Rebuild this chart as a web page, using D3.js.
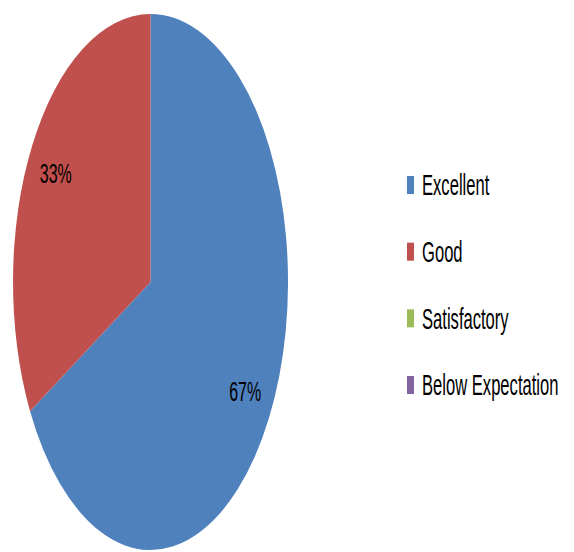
<!DOCTYPE html>
<html><head><meta charset="utf-8">
<script src="https://cdn.jsdelivr.net/npm/d3@7"></script>
<style>body{margin:0;background:#fff}svg{display:block}text{font-family:"Liberation Sans",Arial,sans-serif;fill:#000}</style>
</head><body>
<svg id="chart" width="574" height="552"></svg>
<script>
const categories = ["Excellent", "Good", "Satisfactory", "Below Expectation"];
const values = [67, 33, 0, 0];
const labels = ["67%", "33%", "", ""];
const colors = ["#4F81BD", "#C0504D", "#9BBB59", "#8064A2"];

const svg = d3.select("#chart");
const cx = 150.5, cy = 282, rx = 137.5, ry = 268;
const textScaleY = 1.75;

const data = categories.map((c, i) => ({cat: c, value: values[i], label: labels[i], color: colors[i]}));
const pie = d3.pie().sort(null).value(d => d.value);
const arcs = pie(data);
const arc = d3.arc().innerRadius(0).outerRadius(1);

const pg = svg.append("g").attr("transform", `translate(${cx},${cy}) scale(${rx},${ry})`);
pg.selectAll("path").data(arcs.filter(d => d.data.value > 0)).join("path")
  .attr("d", arc).attr("fill", d => d.data.color);

const k = 0.8;
svg.selectAll("g.lbl").data(arcs.filter(d => d.data.value > 0)).join("g")
  .attr("class", "lbl")
  .attr("transform", d => {
    const a = (d.startAngle + d.endAngle) / 2;
    const x = cx + rx * k * Math.sin(a);
    const y = cy - ry * k * Math.cos(a);
    return `translate(${x},${y}) scale(1,${textScaleY})`;
  })
  .append("text").attr("text-anchor", "middle").attr("dy", "0.35em")
  .attr("font-size", 16).text(d => d.data.label);

const legendY = d3.scalePoint().domain(categories).range([185, 385]);
const lg = svg.selectAll("g.leg").data(data).join("g").attr("class", "leg")
  .attr("transform", d => `translate(407,${legendY(d.cat)})`);
lg.append("rect").attr("x", 0).attr("y", -9).attr("width", 7).attr("height", 18).attr("fill", d => d.color);
lg.append("g").attr("transform", `translate(15,0) scale(1,${textScaleY})`)
  .append("text").attr("dy", "0.36em").attr("font-size", 16.6).text(d => d.cat);
</script>
</body></html>
